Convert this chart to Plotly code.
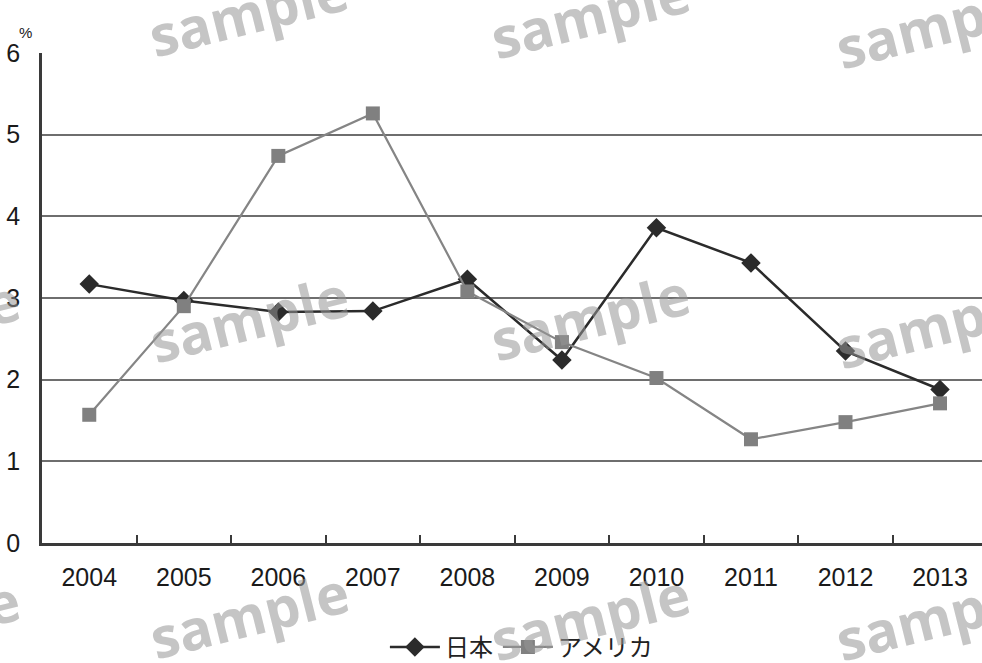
import plotly.graph_objects as go

years = ["2004", "2005", "2006", "2007", "2008", "2009", "2010", "2011", "2012", "2013"]
japan = [3.17, 2.97, 2.83, 2.84, 3.23, 2.24, 3.86, 3.43, 2.35, 1.88]
usa = [1.57, 2.90, 4.74, 5.26, 3.08, 2.46, 2.02, 1.27, 1.48, 1.71]
series_names = ["日本", "アメリカ"]
y_ticks = [0, 1, 2, 3, 4, 5, 6]

num_font = "Liberation Sans, Arial, sans-serif"
jp_font = "Noto Sans CJK JP, sans-serif"

fig = go.Figure()
fig.add_trace(go.Scatter(
    x=years, y=japan, name=series_names[0], mode="lines+markers",
    line=dict(color="#2b2b2b", width=2.5),
    marker=dict(symbol="diamond", size=15, color="#2b2b2b"),
))
fig.add_trace(go.Scatter(
    x=years, y=usa, name=series_names[1], mode="lines+markers",
    line=dict(color="#858585", width=2.2),
    marker=dict(symbol="square", size=14, color="#808080"),
))

fig.update_layout(
    width=982, height=663,
    margin=dict(l=42, r=0, t=53, b=120, autoexpand=False),
    paper_bgcolor="white", plot_bgcolor="white",
    showlegend=True,
    legend=dict(orientation="h", x=0.51, xanchor="center", y=-0.213, yanchor="middle",
                font=dict(family=jp_font, size=24, color="#222"),
                itemwidth=50, traceorder="normal"),
    xaxis=dict(
        type="category", range=[-0.5, 9.444],
        showgrid=False, showline=True, linecolor="#3a3a3a", linewidth=2.5,
        ticks="inside", tickson="boundaries", ticklen=8, tickcolor="#3a3a3a", tickwidth=1.5,
        tickfont=dict(family=num_font, size=25, color="#1a1a1a"),
        ticklabelstandoff=10,
    ),
    yaxis=dict(
        range=[0, 6], tickvals=y_ticks,
        showgrid=True, gridcolor="#6e6e6e", gridwidth=1.5,
        showline=True, linecolor="#3a3a3a", linewidth=2.5,
        zeroline=False, ticks="",
        tickfont=dict(family=num_font, size=25, color="#1a1a1a"),
        ticklabelstandoff=14,
    ),
)

fig.add_annotation(text="%", xref="paper", yref="paper", x=-0.027, y=1.063,
                   showarrow=False, font=dict(family=num_font, size=15, color="#1a1a1a"))

# watermark stamps across the page
marks = [(248, 12), (590, 14), (935, 24),
         (249, 318), (590, 316), (935, 324),
         (249, 614), (590, 616), (935, 616),
         (-80, 322), (-80, 622)]
for px, py in marks:
    fig.add_annotation(
        text="<b>sample</b>", xref="paper", yref="paper",
        x=(px - 42) / 940, y=1 - (py - 53) / 490,
        xanchor="center", yanchor="middle", showarrow=False, textangle=-14,
        font=dict(family="Open Sans, sans-serif", size=56, color="rgba(150,150,150,0.55)"),
    )

fig.write_html("out.html")
